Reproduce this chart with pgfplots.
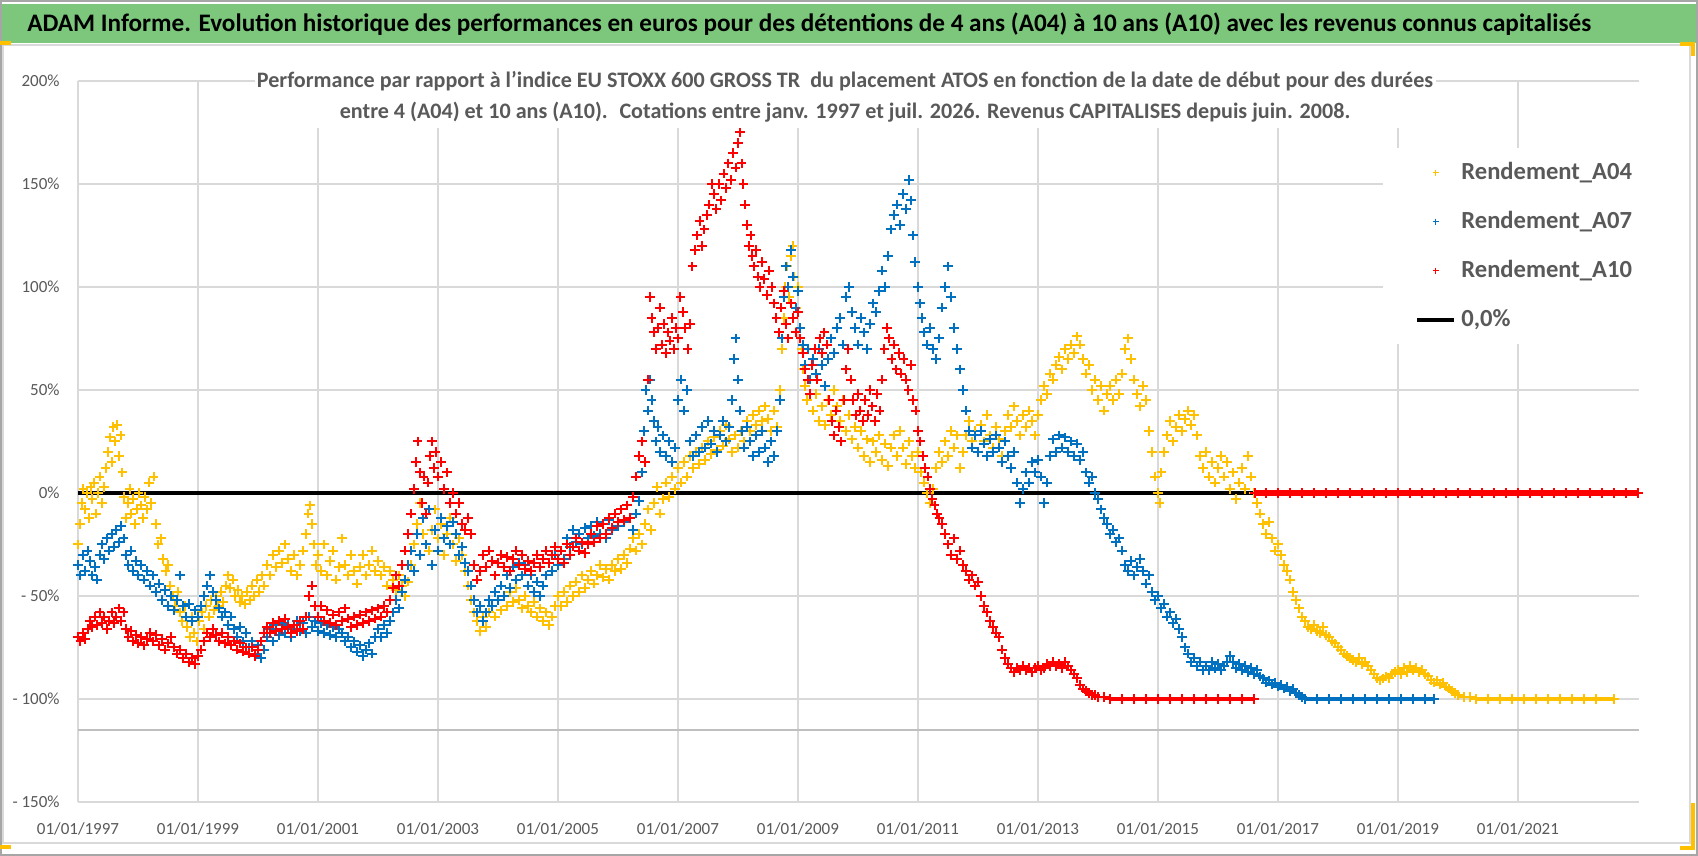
\documentclass[border=0pt]{standalone}
\usepackage{pgfplots}
\pgfplotsset{compat=1.18}
\usepackage{pgfplotstable}
\usepackage{fontspec}
\setmainfont{Carlito}
\definecolor{cA04}{HTML}{FFC000}
\definecolor{cA07}{HTML}{0070C0}
\definecolor{cA10}{HTML}{FF0000}
\definecolor{gridc}{HTML}{D9D9D9}
\definecolor{txt}{HTML}{595959}
\definecolor{banner}{RGB}{124,199,124}
\definecolor{framec}{HTML}{A6A6A6}
\definecolor{handle}{HTML}{FFC000}

\pgfplotstableread[row sep=\\]{x y\\
1997.00 -25\\ 1997.03 -15\\ 1997.06 -5\\ 1997.09 2\\ 1997.12 -8\\ 1997.15 0\\ 1997.18 -12\\ 1997.21 3\\ 1997.24 -3\\ 1997.27 5\\
1997.30 -10\\ 1997.33 0\\ 1997.36 8\\ 1997.40 -5\\ 1997.43 3\\ 1997.46 12\\ 1997.50 20\\ 1997.53 27\\ 1997.56 15\\ 1997.59 32\\
1997.62 25\\ 1997.65 33\\ 1997.68 18\\ 1997.71 28\\ 1997.74 10\\ 1997.77 -2\\ 1997.80 -12\\ 1997.83 -5\\ 1997.86 2\\ 1997.89 -10\\
1997.92 -3\\ 1997.95 -15\\ 1997.98 -8\\ 1998.01 0\\ 1998.05 -6\\ 1998.08 -12\\ 1998.11 -2\\ 1998.15 -8\\ 1998.18 5\\ 1998.22 -5\\
1998.26 8\\ 1998.30 -15\\ 1998.34 -25\\ 1998.38 -22\\ 1998.42 -32\\ 1998.46 -38\\ 1998.50 -35\\ 1998.54 -45\\ 1998.58 -50\\ 1998.62 -55\\
1998.66 -48\\ 1998.70 -58\\ 1998.74 -62\\ 1998.78 -55\\ 1998.82 -65\\ 1998.86 -70\\ 1998.90 -60\\ 1998.94 -68\\ 1998.98 -72\\ 1999.02 -62\\
1999.06 -58\\ 1999.10 -66\\ 1999.14 -55\\ 1999.18 -60\\ 1999.22 -52\\ 1999.26 -57\\ 1999.30 -50\\ 1999.34 -55\\ 1999.38 -48\\ 1999.42 -53\\
1999.46 -45\\ 1999.50 -40\\ 1999.54 -46\\ 1999.58 -42\\ 1999.62 -50\\ 1999.66 -47\\ 1999.70 -53\\ 1999.74 -50\\ 1999.78 -54\\ 1999.82 -48\\
1999.86 -52\\ 1999.90 -45\\ 1999.94 -50\\ 1999.98 -42\\ 2000.02 -48\\ 2000.06 -40\\ 2000.10 -45\\ 2000.15 -35\\ 2000.20 -40\\ 2000.25 -30\\
2000.30 -36\\ 2000.35 -28\\ 2000.40 -34\\ 2000.45 -25\\ 2000.50 -32\\ 2000.55 -38\\ 2000.60 -30\\ 2000.65 -40\\ 2000.70 -35\\ 2000.75 -28\\
2000.80 -20\\ 2000.84 -10\\ 2000.87 -6\\ 2000.90 -15\\ 2000.93 -25\\ 2000.97 -35\\ 2001.00 -30\\ 2001.05 -38\\ 2001.10 -25\\ 2001.15 -40\\
2001.20 -33\\ 2001.25 -28\\ 2001.30 -42\\ 2001.35 -36\\ 2001.40 -22\\ 2001.45 -35\\ 2001.50 -40\\ 2001.55 -30\\ 2001.60 -38\\ 2001.65 -44\\
2001.70 -36\\ 2001.75 -30\\ 2001.80 -40\\ 2001.85 -35\\ 2001.90 -28\\ 2001.95 -38\\ 2002.00 -33\\ 2002.05 -40\\ 2002.10 -36\\ 2002.15 -45\\
2002.20 -38\\ 2002.25 -42\\ 2002.30 -47\\ 2002.35 -40\\ 2002.40 -45\\ 2002.45 -50\\ 2002.50 -43\\ 2002.55 -35\\ 2002.60 -25\\ 2002.65 -15\\
2002.70 -5\\ 2002.75 -20\\ 2002.80 -10\\ 2002.85 -28\\ 2002.90 -18\\ 2002.95 -8\\ 2003.00 -22\\ 2003.05 -15\\ 2003.10 -30\\ 2003.15 -20\\
2003.20 -12\\ 2003.25 -25\\ 2003.30 -33\\ 2003.35 -22\\ 2003.40 -30\\ 2003.45 -38\\ 2003.50 -45\\ 2003.55 -52\\ 2003.60 -58\\ 2003.65 -62\\
2003.70 -67\\ 2003.75 -60\\ 2003.80 -65\\ 2003.85 -58\\ 2003.90 -55\\ 2003.95 -60\\ 2004.00 -52\\ 2004.05 -57\\ 2004.10 -50\\ 2004.15 -55\\
2004.20 -48\\ 2004.25 -53\\ 2004.30 -46\\ 2004.35 -52\\ 2004.40 -56\\ 2004.45 -50\\ 2004.50 -55\\ 2004.55 -58\\ 2004.60 -53\\ 2004.65 -60\\
2004.70 -56\\ 2004.75 -62\\ 2004.80 -58\\ 2004.85 -64\\ 2004.90 -60\\ 2004.95 -55\\ 2005.00 -50\\ 2005.05 -55\\ 2005.10 -48\\ 2005.15 -53\\
2005.20 -45\\ 2005.25 -50\\ 2005.30 -43\\ 2005.35 -48\\ 2005.40 -40\\ 2005.45 -46\\ 2005.50 -42\\ 2005.55 -38\\ 2005.60 -44\\ 2005.65 -40\\
2005.70 -35\\ 2005.75 -41\\ 2005.80 -37\\ 2005.85 -42\\ 2005.90 -35\\ 2005.95 -38\\ 2006.00 -32\\ 2006.05 -37\\ 2006.10 -30\\ 2006.15 -34\\
2006.20 -27\\ 2006.25 -22\\ 2006.30 -28\\ 2006.35 -20\\ 2006.40 -25\\ 2006.45 -15\\ 2006.50 -8\\ 2006.55 -18\\ 2006.60 -5\\ 2006.65 3\\
2006.70 -10\\ 2006.75 -3\\ 2006.80 5\\ 2006.85 -2\\ 2006.90 8\\ 2006.95 2\\ 2007.00 12\\ 2007.05 5\\ 2007.10 15\\ 2007.15 8\\
2007.20 18\\ 2007.25 12\\ 2007.30 20\\ 2007.35 14\\ 2007.40 22\\ 2007.45 16\\ 2007.50 25\\ 2007.55 19\\ 2007.60 27\\ 2007.65 21\\
2007.70 30\\ 2007.75 23\\ 2007.80 33\\ 2007.85 26\\ 2007.90 20\\ 2007.95 28\\ 2008.00 22\\ 2008.05 30\\ 2008.10 25\\ 2008.15 35\\
2008.20 30\\ 2008.25 38\\ 2008.30 33\\ 2008.35 40\\ 2008.40 35\\ 2008.45 42\\ 2008.50 36\\ 2008.55 30\\ 2008.60 40\\ 2008.65 32\\
2008.70 50\\ 2008.73 70\\ 2008.76 85\\ 2008.79 100\\ 2008.82 110\\ 2008.85 95\\ 2008.88 115\\ 2008.91 120\\ 2008.94 105\\ 2008.97 90\\
2009.00 100\\ 2009.03 80\\ 2009.06 70\\ 2009.09 60\\ 2009.12 52\\ 2009.15 45\\ 2009.20 55\\ 2009.25 40\\ 2009.30 48\\ 2009.35 35\\
2009.40 42\\ 2009.45 33\\ 2009.50 45\\ 2009.55 38\\ 2009.60 50\\ 2009.65 42\\ 2009.70 35\\ 2009.75 45\\ 2009.80 30\\ 2009.85 38\\
2009.90 26\\ 2009.95 32\\ 2010.00 22\\ 2010.05 30\\ 2010.10 18\\ 2010.15 26\\ 2010.20 15\\ 2010.25 25\\ 2010.30 20\\ 2010.35 28\\
2010.40 16\\ 2010.45 24\\ 2010.50 13\\ 2010.55 22\\ 2010.60 28\\ 2010.65 18\\ 2010.70 30\\ 2010.75 22\\ 2010.80 14\\ 2010.85 25\\
2010.90 18\\ 2010.95 12\\ 2011.00 20\\ 2011.05 10\\ 2011.10 5\\ 2011.15 0\\ 2011.20 -5\\ 2011.25 2\\ 2011.30 12\\ 2011.35 20\\
2011.40 15\\ 2011.45 25\\ 2011.50 18\\ 2011.55 30\\ 2011.60 22\\ 2011.65 28\\ 2011.70 12\\ 2011.75 20\\ 2011.80 28\\ 2011.85 35\\
2011.90 25\\ 2011.95 30\\ 2012.00 20\\ 2012.05 33\\ 2012.10 25\\ 2012.15 38\\ 2012.20 28\\ 2012.25 22\\ 2012.30 32\\ 2012.35 26\\
2012.40 18\\ 2012.45 30\\ 2012.50 38\\ 2012.55 32\\ 2012.60 42\\ 2012.65 35\\ 2012.70 28\\ 2012.75 38\\ 2012.80 32\\ 2012.85 40\\
2012.90 35\\ 2012.95 28\\ 2013.00 38\\ 2013.05 45\\ 2013.10 52\\ 2013.15 48\\ 2013.20 58\\ 2013.25 55\\ 2013.30 62\\ 2013.35 66\\
2013.40 60\\ 2013.45 70\\ 2013.50 65\\ 2013.55 72\\ 2013.60 68\\ 2013.65 76\\ 2013.70 72\\ 2013.75 65\\ 2013.80 58\\ 2013.85 62\\
2013.90 50\\ 2013.95 55\\ 2014.00 45\\ 2014.05 52\\ 2014.10 40\\ 2014.15 48\\ 2014.20 52\\ 2014.25 45\\ 2014.30 55\\ 2014.35 48\\
2014.40 58\\ 2014.45 70\\ 2014.50 75\\ 2014.55 65\\ 2014.60 55\\ 2014.65 48\\ 2014.70 42\\ 2014.75 52\\ 2014.80 45\\ 2014.85 30\\
2014.90 20\\ 2014.95 8\\ 2015.00 0\\ 2015.03 -5\\ 2015.06 10\\ 2015.10 20\\ 2015.15 28\\ 2015.20 35\\ 2015.25 25\\ 2015.30 32\\
2015.35 38\\ 2015.40 30\\ 2015.45 36\\ 2015.50 40\\ 2015.55 33\\ 2015.60 38\\ 2015.65 28\\ 2015.70 18\\ 2015.75 12\\ 2015.80 20\\
2015.85 8\\ 2015.90 15\\ 2015.95 5\\ 2016.00 12\\ 2016.05 18\\ 2016.10 8\\ 2016.15 15\\ 2016.20 2\\ 2016.25 10\\ 2016.30 -3\\
2016.35 5\\ 2016.40 12\\ 2016.45 2\\ 2016.50 18\\ 2016.55 8\\ 2016.60 0\\ 2016.65 -5\\ 2016.70 -10\\ 2016.75 -15\\ 2016.80 -20\\
2016.85 -14\\ 2016.90 -22\\ 2016.95 -28\\ 2017.00 -25\\ 2017.05 -30\\ 2017.10 -35\\ 2017.15 -38\\ 2017.20 -42\\ 2017.25 -48\\ 2017.30 -52\\
2017.35 -56\\ 2017.40 -60\\ 2017.45 -62\\ 2017.50 -65\\ 2017.55 -66\\ 2017.60 -64\\ 2017.65 -67\\ 2017.70 -68\\ 2017.75 -65\\ 2017.80 -69\\
2017.85 -70\\ 2017.90 -72\\ 2017.95 -73\\ 2018.00 -75\\ 2018.05 -76\\ 2018.10 -78\\ 2018.15 -79\\ 2018.20 -80\\ 2018.25 -81\\ 2018.30 -82\\
2018.35 -80\\ 2018.40 -83\\ 2018.45 -82\\ 2018.50 -84\\ 2018.55 -86\\ 2018.60 -88\\ 2018.65 -90\\ 2018.70 -91\\ 2018.75 -90\\ 2018.80 -89\\
2018.85 -90\\ 2018.90 -88\\ 2018.95 -87\\ 2019.00 -86\\ 2019.05 -88\\ 2019.10 -85\\ 2019.15 -87\\ 2019.20 -84\\ 2019.25 -86\\ 2019.30 -85\\
2019.35 -87\\ 2019.40 -86\\ 2019.45 -88\\ 2019.50 -89\\ 2019.55 -91\\ 2019.60 -92\\ 2019.65 -91\\ 2019.70 -93\\ 2019.75 -92\\ 2019.80 -94\\
2019.85 -95\\ 2019.90 -96\\ 2019.95 -97\\ 2020.00 -98\\ 2020.10 -99\\ 2020.20 -99\\
}\tYellow

\pgfplotstableread[row sep=\\]{x y\\
2020.30 -100\\ 2020.50 -100\\ 2020.70 -100\\ 2020.90 -100\\ 2021.10 -100\\ 2021.30 -100\\ 2021.50 -100\\ 2021.70 -100\\ 2021.90 -100\\ 2022.10 -100\\ 2022.30 -100\\ 2022.60 -100\\
}\tYellowFlat

\pgfplotstableread[row sep=\\]{x y\\
1997.00 -35\\ 1997.04 -40\\ 1997.08 -30\\ 1997.12 -38\\ 1997.16 -28\\ 1997.20 -33\\ 1997.24 -40\\ 1997.28 -36\\ 1997.32 -42\\ 1997.36 -30\\
1997.40 -25\\ 1997.44 -32\\ 1997.48 -22\\ 1997.52 -28\\ 1997.56 -20\\ 1997.60 -26\\ 1997.64 -18\\ 1997.68 -24\\ 1997.72 -16\\ 1997.76 -22\\
1997.80 -30\\ 1997.84 -35\\ 1997.88 -28\\ 1997.92 -38\\ 1997.96 -33\\ 1998.00 -40\\ 1998.05 -35\\ 1998.10 -42\\ 1998.15 -38\\ 1998.20 -45\\
1998.25 -40\\ 1998.30 -48\\ 1998.35 -44\\ 1998.40 -52\\ 1998.45 -47\\ 1998.50 -55\\ 1998.55 -50\\ 1998.60 -57\\ 1998.65 -52\\ 1998.70 -40\\
1998.75 -55\\ 1998.80 -60\\ 1998.85 -54\\ 1998.90 -62\\ 1998.95 -57\\ 1999.00 -60\\ 1999.05 -55\\ 1999.10 -50\\ 1999.15 -45\\ 1999.20 -40\\
1999.25 -48\\ 1999.30 -52\\ 1999.35 -56\\ 1999.40 -60\\ 1999.45 -58\\ 1999.50 -64\\ 1999.55 -60\\ 1999.60 -66\\ 1999.65 -70\\ 1999.70 -65\\
1999.75 -72\\ 1999.80 -68\\ 1999.85 -75\\ 1999.90 -72\\ 1999.95 -78\\ 2000.00 -74\\ 2000.05 -80\\ 2000.10 -76\\ 2000.15 -70\\ 2000.20 -66\\
2000.25 -72\\ 2000.30 -64\\ 2000.35 -69\\ 2000.40 -63\\ 2000.45 -68\\ 2000.50 -64\\ 2000.55 -70\\ 2000.60 -66\\ 2000.65 -62\\ 2000.70 -67\\
2000.75 -63\\ 2000.80 -68\\ 2000.85 -60\\ 2000.90 -65\\ 2000.95 -62\\ 2001.00 -67\\ 2001.05 -63\\ 2001.10 -68\\ 2001.15 -64\\ 2001.20 -69\\
2001.25 -65\\ 2001.30 -70\\ 2001.35 -66\\ 2001.40 -68\\ 2001.45 -72\\ 2001.50 -70\\ 2001.55 -75\\ 2001.60 -72\\ 2001.65 -77\\ 2001.70 -74\\
2001.75 -79\\ 2001.80 -76\\ 2001.85 -73\\ 2001.90 -78\\ 2001.95 -70\\ 2002.00 -66\\ 2002.05 -70\\ 2002.10 -64\\ 2002.15 -68\\ 2002.20 -62\\
2002.25 -58\\ 2002.30 -52\\ 2002.35 -56\\ 2002.40 -48\\ 2002.45 -42\\ 2002.50 -35\\ 2002.55 -28\\ 2002.60 -38\\ 2002.65 -20\\ 2002.70 -30\\
2002.75 -12\\ 2002.80 -25\\ 2002.85 -8\\ 2002.90 -35\\ 2002.95 -18\\ 2003.00 -28\\ 2003.05 -12\\ 2003.10 -22\\ 2003.15 -16\\ 2003.20 -25\\
2003.25 -14\\ 2003.30 -20\\ 2003.35 -30\\ 2003.40 -26\\ 2003.45 -34\\ 2003.50 -38\\ 2003.55 -45\\ 2003.60 -52\\ 2003.65 -58\\ 2003.70 -55\\
2003.75 -62\\ 2003.80 -58\\ 2003.85 -52\\ 2003.90 -55\\ 2003.95 -48\\ 2004.00 -52\\ 2004.05 -45\\ 2004.10 -50\\ 2004.15 -40\\ 2004.20 -46\\
2004.25 -36\\ 2004.30 -42\\ 2004.35 -34\\ 2004.40 -40\\ 2004.45 -35\\ 2004.50 -45\\ 2004.55 -40\\ 2004.60 -48\\ 2004.65 -43\\ 2004.70 -50\\
2004.75 -45\\ 2004.80 -40\\ 2004.85 -34\\ 2004.90 -38\\ 2004.95 -30\\ 2005.00 -35\\ 2005.05 -28\\ 2005.10 -32\\ 2005.15 -22\\ 2005.20 -26\\
2005.25 -18\\ 2005.30 -24\\ 2005.35 -20\\ 2005.40 -25\\ 2005.45 -17\\ 2005.50 -22\\ 2005.55 -16\\ 2005.60 -21\\ 2005.65 -14\\ 2005.70 -20\\
2005.75 -15\\ 2005.80 -22\\ 2005.85 -13\\ 2005.90 -18\\ 2005.95 -10\\ 2006.00 -16\\ 2006.05 -8\\ 2006.10 -14\\ 2006.15 -6\\ 2006.20 -12\\
2006.25 -18\\ 2006.30 -10\\ 2006.35 -4\\ 2006.40 10\\ 2006.43 30\\ 2006.46 50\\ 2006.50 40\\ 2006.53 55\\ 2006.56 45\\ 2006.60 35\\
2006.63 25\\ 2006.66 32\\ 2006.70 20\\ 2006.75 28\\ 2006.80 18\\ 2006.85 25\\ 2006.90 15\\ 2006.95 22\\ 2007.00 45\\ 2007.05 55\\
2007.10 40\\ 2007.15 50\\ 2007.20 25\\ 2007.25 18\\ 2007.30 28\\ 2007.35 20\\ 2007.40 32\\ 2007.45 22\\ 2007.50 35\\ 2007.55 24\\
2007.60 30\\ 2007.65 20\\ 2007.70 28\\ 2007.75 35\\ 2007.80 25\\ 2007.85 32\\ 2007.90 45\\ 2007.93 65\\ 2007.96 75\\ 2008.00 55\\
2008.03 40\\ 2008.06 30\\ 2008.10 22\\ 2008.15 32\\ 2008.20 25\\ 2008.25 18\\ 2008.30 28\\ 2008.35 20\\ 2008.40 30\\ 2008.45 22\\
2008.50 15\\ 2008.55 25\\ 2008.60 18\\ 2008.65 30\\ 2008.70 45\\ 2008.73 75\\ 2008.76 95\\ 2008.80 110\\ 2008.84 100\\ 2008.88 118\\
2008.92 105\\ 2008.96 90\\ 2009.00 98\\ 2009.04 80\\ 2009.08 72\\ 2009.12 62\\ 2009.16 70\\ 2009.20 55\\ 2009.25 65\\ 2009.30 58\\
2009.35 70\\ 2009.40 62\\ 2009.45 52\\ 2009.50 65\\ 2009.55 75\\ 2009.60 68\\ 2009.65 80\\ 2009.70 85\\ 2009.75 72\\ 2009.80 95\\
2009.85 100\\ 2009.90 88\\ 2009.95 80\\ 2010.00 72\\ 2010.05 85\\ 2010.10 78\\ 2010.15 70\\ 2010.20 82\\ 2010.25 92\\ 2010.30 88\\
2010.35 98\\ 2010.40 108\\ 2010.45 100\\ 2010.50 115\\ 2010.55 128\\ 2010.60 135\\ 2010.65 140\\ 2010.70 130\\ 2010.75 145\\ 2010.80 138\\
2010.85 152\\ 2010.88 142\\ 2010.92 125\\ 2010.95 112\\ 2011.00 100\\ 2011.03 92\\ 2011.06 85\\ 2011.10 78\\ 2011.15 72\\ 2011.20 80\\
2011.25 70\\ 2011.30 65\\ 2011.35 75\\ 2011.40 90\\ 2011.45 100\\ 2011.50 110\\ 2011.55 95\\ 2011.60 80\\ 2011.65 70\\ 2011.70 60\\
2011.75 50\\ 2011.80 40\\ 2011.85 30\\ 2011.90 22\\ 2011.95 28\\ 2012.00 20\\ 2012.05 30\\ 2012.10 24\\ 2012.15 18\\ 2012.20 26\\
2012.25 20\\ 2012.30 28\\ 2012.35 22\\ 2012.40 15\\ 2012.45 25\\ 2012.50 18\\ 2012.55 12\\ 2012.60 20\\ 2012.65 5\\ 2012.70 -5\\
2012.75 2\\ 2012.80 10\\ 2012.85 5\\ 2012.90 15\\ 2012.95 10\\ 2013.00 16\\ 2013.05 8\\ 2013.10 -5\\ 2013.15 5\\ 2013.20 18\\
2013.25 26\\ 2013.30 20\\ 2013.35 28\\ 2013.40 22\\ 2013.45 27\\ 2013.50 20\\ 2013.55 25\\ 2013.60 18\\ 2013.65 24\\ 2013.70 16\\
2013.75 20\\ 2013.80 10\\ 2013.85 5\\ 2013.90 8\\ 2013.95 0\\ 2014.00 -3\\ 2014.05 -8\\ 2014.10 -12\\ 2014.15 -15\\ 2014.20 -20\\
2014.25 -18\\ 2014.30 -24\\ 2014.35 -22\\ 2014.40 -28\\ 2014.45 -35\\ 2014.50 -38\\ 2014.55 -33\\ 2014.60 -40\\ 2014.65 -36\\ 2014.70 -32\\
2014.75 -38\\ 2014.80 -44\\ 2014.85 -40\\ 2014.90 -48\\ 2014.95 -52\\ 2015.00 -50\\ 2015.05 -56\\ 2015.10 -54\\ 2015.15 -60\\ 2015.20 -58\\
2015.25 -63\\ 2015.30 -61\\ 2015.35 -66\\ 2015.40 -70\\ 2015.45 -75\\ 2015.50 -78\\ 2015.55 -82\\ 2015.60 -80\\ 2015.65 -84\\ 2015.70 -82\\
2015.75 -86\\ 2015.80 -84\\ 2015.85 -86\\ 2015.90 -82\\ 2015.95 -85\\ 2016.00 -83\\ 2016.05 -86\\ 2016.10 -84\\ 2016.15 -82\\ 2016.20 -79\\
2016.25 -82\\ 2016.30 -85\\ 2016.35 -83\\ 2016.40 -86\\ 2016.45 -84\\ 2016.50 -87\\ 2016.55 -85\\ 2016.60 -88\\ 2016.65 -86\\ 2016.70 -89\\
2016.75 -90\\ 2016.80 -92\\ 2016.85 -91\\ 2016.90 -93\\ 2016.95 -92\\ 2017.00 -94\\ 2017.05 -93\\ 2017.10 -95\\ 2017.15 -94\\ 2017.20 -96\\
2017.25 -95\\ 2017.30 -97\\ 2017.35 -98\\ 2017.40 -99\\
}\tBlue

\pgfplotstableread[row sep=\\]{x y\\
2017.45 -100\\ 2017.65 -100\\ 2017.85 -100\\ 2018.05 -100\\ 2018.25 -100\\ 2018.45 -100\\ 2018.65 -100\\ 2018.85 -100\\ 2019.05 -100\\ 2019.25 -100\\ 2019.45 -100\\ 2019.60 -100\\
}\tBlueFlat

\pgfplotstableread[row sep=\\]{x y\\
1997.00 -70\\ 1997.04 -72\\ 1997.08 -68\\ 1997.12 -71\\ 1997.16 -66\\ 1997.20 -62\\ 1997.24 -65\\ 1997.28 -60\\ 1997.32 -64\\ 1997.36 -58\\
1997.40 -63\\ 1997.44 -60\\ 1997.48 -66\\ 1997.52 -62\\ 1997.56 -58\\ 1997.60 -63\\ 1997.64 -60\\ 1997.68 -56\\ 1997.72 -62\\ 1997.76 -58\\
1997.80 -66\\ 1997.84 -70\\ 1997.88 -67\\ 1997.92 -72\\ 1997.96 -69\\ 1998.00 -73\\ 1998.05 -70\\ 1998.10 -74\\ 1998.15 -71\\ 1998.20 -68\\
1998.25 -72\\ 1998.30 -69\\ 1998.35 -74\\ 1998.40 -71\\ 1998.45 -76\\ 1998.50 -73\\ 1998.55 -70\\ 1998.60 -75\\ 1998.65 -78\\ 1998.70 -76\\
1998.75 -80\\ 1998.80 -78\\ 1998.85 -82\\ 1998.90 -80\\ 1998.95 -83\\ 1999.00 -79\\ 1999.05 -76\\ 1999.10 -72\\ 1999.15 -68\\ 1999.20 -70\\
1999.25 -66\\ 1999.30 -69\\ 1999.35 -72\\ 1999.40 -68\\ 1999.45 -73\\ 1999.50 -70\\ 1999.55 -74\\ 1999.60 -72\\ 1999.65 -76\\ 1999.70 -73\\
1999.75 -77\\ 1999.80 -75\\ 1999.85 -78\\ 1999.90 -75\\ 1999.95 -79\\ 2000.00 -76\\ 2000.05 -72\\ 2000.10 -68\\ 2000.15 -65\\ 2000.20 -68\\
2000.25 -63\\ 2000.30 -67\\ 2000.35 -62\\ 2000.40 -66\\ 2000.45 -61\\ 2000.50 -65\\ 2000.55 -68\\ 2000.60 -64\\ 2000.65 -67\\ 2000.70 -62\\
2000.75 -66\\ 2000.80 -60\\ 2000.85 -50\\ 2000.90 -45\\ 2000.95 -55\\ 2001.00 -60\\ 2001.05 -55\\ 2001.10 -62\\ 2001.15 -57\\ 2001.20 -63\\
2001.25 -59\\ 2001.30 -64\\ 2001.35 -58\\ 2001.40 -62\\ 2001.45 -56\\ 2001.50 -61\\ 2001.55 -65\\ 2001.60 -60\\ 2001.65 -64\\ 2001.70 -59\\
2001.75 -63\\ 2001.80 -58\\ 2001.85 -62\\ 2001.90 -57\\ 2001.95 -61\\ 2002.00 -56\\ 2002.05 -60\\ 2002.10 -55\\ 2002.15 -58\\ 2002.20 -52\\
2002.25 -46\\ 2002.30 -40\\ 2002.35 -45\\ 2002.40 -35\\ 2002.45 -28\\ 2002.50 -20\\ 2002.55 -10\\ 2002.60 2\\ 2002.63 15\\ 2002.66 25\\
2002.70 10\\ 2002.73 -5\\ 2002.76 8\\ 2002.80 -10\\ 2002.83 5\\ 2002.86 18\\ 2002.90 25\\ 2002.93 12\\ 2002.96 20\\ 2003.00 8\\
2003.05 15\\ 2003.10 2\\ 2003.15 10\\ 2003.20 -5\\ 2003.25 0\\ 2003.30 -10\\ 2003.35 -5\\ 2003.40 -15\\ 2003.45 -18\\ 2003.50 -12\\
2003.55 -20\\ 2003.60 -35\\ 2003.65 -42\\ 2003.70 -38\\ 2003.75 -30\\ 2003.80 -36\\ 2003.85 -28\\ 2003.90 -33\\ 2003.95 -40\\ 2004.00 -34\\
2004.05 -30\\ 2004.10 -36\\ 2004.15 -31\\ 2004.20 -38\\ 2004.25 -32\\ 2004.30 -28\\ 2004.35 -35\\ 2004.40 -30\\ 2004.45 -37\\ 2004.50 -33\\
2004.55 -38\\ 2004.60 -34\\ 2004.65 -30\\ 2004.70 -36\\ 2004.75 -32\\ 2004.80 -28\\ 2004.85 -34\\ 2004.90 -30\\ 2004.95 -26\\ 2005.00 -32\\
2005.05 -28\\ 2005.10 -34\\ 2005.15 -25\\ 2005.20 -30\\ 2005.25 -26\\ 2005.30 -22\\ 2005.35 -28\\ 2005.40 -24\\ 2005.45 -29\\ 2005.50 -25\\
2005.55 -20\\ 2005.60 -24\\ 2005.65 -16\\ 2005.70 -22\\ 2005.75 -15\\ 2005.80 -20\\ 2005.85 -12\\ 2005.90 -17\\ 2005.95 -10\\ 2006.00 -14\\
2006.05 -8\\ 2006.10 -13\\ 2006.15 -6\\ 2006.20 -12\\ 2006.25 -2\\ 2006.30 8\\ 2006.35 18\\ 2006.40 25\\ 2006.45 15\\ 2006.50 55\\
2006.53 95\\ 2006.56 85\\ 2006.60 78\\ 2006.63 70\\ 2006.66 80\\ 2006.70 90\\ 2006.73 72\\ 2006.76 82\\ 2006.80 68\\ 2006.83 78\\
2006.86 74\\ 2006.90 85\\ 2006.93 70\\ 2006.96 80\\ 2007.00 75\\ 2007.04 95\\ 2007.08 88\\ 2007.12 80\\ 2007.16 70\\ 2007.20 82\\
2007.24 110\\ 2007.28 118\\ 2007.32 125\\ 2007.36 132\\ 2007.40 120\\ 2007.44 128\\ 2007.48 135\\ 2007.52 140\\ 2007.56 150\\ 2007.60 145\\
2007.64 138\\ 2007.68 150\\ 2007.72 142\\ 2007.76 155\\ 2007.80 148\\ 2007.84 160\\ 2007.88 152\\ 2007.92 165\\ 2007.96 158\\ 2008.00 170\\
2008.03 175\\ 2008.06 160\\ 2008.09 150\\ 2008.12 140\\ 2008.15 130\\ 2008.18 120\\ 2008.21 125\\ 2008.24 115\\ 2008.27 110\\ 2008.30 118\\
2008.33 105\\ 2008.36 100\\ 2008.40 112\\ 2008.44 104\\ 2008.48 96\\ 2008.52 108\\ 2008.56 100\\ 2008.60 92\\ 2008.64 85\\ 2008.68 78\\
2008.72 90\\ 2008.76 98\\ 2008.80 82\\ 2008.84 75\\ 2008.88 92\\ 2008.92 85\\ 2008.96 78\\ 2009.00 88\\ 2009.04 75\\ 2009.08 68\\
2009.12 60\\ 2009.16 55\\ 2009.20 48\\ 2009.24 62\\ 2009.28 70\\ 2009.32 55\\ 2009.36 75\\ 2009.40 68\\ 2009.44 78\\ 2009.48 72\\
2009.52 45\\ 2009.56 35\\ 2009.60 28\\ 2009.64 40\\ 2009.68 32\\ 2009.72 25\\ 2009.76 45\\ 2009.80 60\\ 2009.84 70\\ 2009.88 55\\
2009.92 45\\ 2009.96 38\\ 2010.00 48\\ 2010.04 40\\ 2010.08 35\\ 2010.12 45\\ 2010.16 38\\ 2010.20 50\\ 2010.24 42\\ 2010.28 35\\
2010.32 48\\ 2010.36 40\\ 2010.40 55\\ 2010.44 70\\ 2010.48 80\\ 2010.52 75\\ 2010.56 65\\ 2010.60 72\\ 2010.64 60\\ 2010.68 68\\
2010.72 58\\ 2010.76 65\\ 2010.80 55\\ 2010.84 50\\ 2010.88 62\\ 2010.92 45\\ 2010.96 40\\ 2011.00 30\\ 2011.04 25\\ 2011.08 18\\
2011.12 12\\ 2011.16 8\\ 2011.20 2\\ 2011.24 -3\\ 2011.28 -6\\ 2011.32 -10\\ 2011.36 -12\\ 2011.40 -15\\ 2011.45 -20\\ 2011.50 -25\\
2011.55 -30\\ 2011.60 -22\\ 2011.65 -32\\ 2011.70 -28\\ 2011.75 -35\\ 2011.80 -38\\ 2011.85 -42\\ 2011.90 -40\\ 2011.95 -45\\ 2012.00 -43\\
2012.05 -50\\ 2012.10 -55\\ 2012.15 -58\\ 2012.20 -62\\ 2012.25 -65\\ 2012.30 -68\\ 2012.35 -70\\ 2012.40 -76\\ 2012.45 -80\\ 2012.50 -83\\
2012.55 -85\\ 2012.60 -87\\ 2012.65 -85\\ 2012.70 -86\\ 2012.75 -84\\ 2012.80 -86\\ 2012.85 -85\\ 2012.90 -87\\ 2012.95 -85\\ 2013.00 -84\\
2013.05 -86\\ 2013.10 -85\\ 2013.15 -83\\ 2013.20 -84\\ 2013.25 -82\\ 2013.30 -84\\ 2013.35 -83\\ 2013.40 -85\\ 2013.45 -82\\ 2013.50 -84\\
2013.55 -86\\ 2013.60 -88\\ 2013.65 -90\\ 2013.70 -93\\ 2013.75 -95\\ 2013.80 -96\\ 2013.85 -97\\ 2013.90 -98\\ 2013.95 -98\\ 2014.00 -99\\
2014.10 -99\\
}\tRed

\pgfplotstableread[row sep=\\]{x y\\
2014.20 -100\\ 2014.40 -100\\ 2014.60 -100\\ 2014.80 -100\\ 2015.00 -100\\ 2015.20 -100\\ 2015.40 -100\\ 2015.60 -100\\ 2015.80 -100\\ 2016.00 -100\\ 2016.20 -100\\ 2016.40 -100\\ 2016.60 -100\\
}\tRedFlat

\pgfplotstableread[row sep=\\]{x y\\
2016.62 0\\ 2016.80 0\\ 2017.00 0\\ 2017.20 0\\ 2017.40 0\\ 2017.60 0\\ 2017.80 0\\ 2018.00 0\\ 2018.20 0\\ 2018.40 0\\ 2018.60 0\\ 2018.80 0\\
2019.00 0\\ 2019.20 0\\ 2019.40 0\\ 2019.60 0\\ 2019.80 0\\ 2020.00 0\\ 2020.20 0\\ 2020.40 0\\ 2020.60 0\\ 2020.80 0\\ 2021.00 0\\ 2021.20 0\\
2021.40 0\\ 2021.60 0\\ 2021.80 0\\ 2022.00 0\\ 2022.20 0\\ 2022.40 0\\ 2022.60 0\\ 2022.80 0\\ 2023.00 0\\
}\tRedZero

\begin{document}
\begin{tikzpicture}
\begin{scope}[x=0.5pt,y=0.5pt]
  \path[use as bounding box] (0,0) rectangle (1698,856);
  \fill[white] (0,0) rectangle (1698,856);
  \draw[framec, line width=0.8pt] (1,1) rectangle (1697,855);
  \fill[banner] (2,813) rectangle (1696,852);
  \draw[gridc, line width=0.8pt] (3,811) rectangle (1690,13);
  \node[anchor=west, inner sep=0pt, font=\bfseries\fontsize{12.6}{15}\selectfont] at (27,832)
    {ADAM Informe. Evolution historique des performances en euros pour des détentions de 4 ans (A04) à 10 ans (A10) avec les revenus connus capitalisés};
  % selection handles
  \draw[handle, line width=2pt] (0,813) -- (11,813);
  \draw[handle, line width=2pt] (0,9) -- (11,9);
  \draw[handle, line width=2pt] (1680,812) -- (1693,812) -- (1693,800);
  \draw[handle, line width=2pt] (1693,53) -- (1693,8) -- (1680,8);
\end{scope}

\begin{axis}[
  at={(39pt,27pt)}, anchor=south west,
  scale only axis, width=780.5pt, height=360.5pt,
  xmin=1997, xmax=2023.02, ymin=-150, ymax=200,
  axis line style={draw=none}, tick style={draw=none},
  grid=major, grid style={color=gridc, line width=0.8pt},
  xtick={1997,1999,...,2021},
  xticklabels={01/01/1997,01/01/1999,01/01/2001,01/01/2003,01/01/2005,01/01/2007,01/01/2009,01/01/2011,01/01/2013,01/01/2015,01/01/2017,01/01/2019,01/01/2021},
  ytick={-150,-100,...,200},
  yticklabels={- 150\%,- 100\%,- 50\%,0\%,50\%,100\%,150\%,200\%},
  ticklabel style={font=\fontsize{8.5}{10}\selectfont, text=txt},
  yticklabel style={inner sep=0pt, xshift=-9pt},
  xticklabel style={inner sep=0pt, yshift=-10pt},
  legend style={at={(0.836,0.907)}, anchor=north west, draw=none, fill=white,
    font=\bfseries\fontsize{12.3}{14}\selectfont, text=txt,
    inner xsep=16pt, inner ysep=7pt, row sep=14.2pt, column sep=2.5pt,
    nodes={inner sep=0pt, text height=8.3pt, text depth=2pt}},
  legend cell align=left,
  scatter/.style={only marks, mark=+, mark size=2.4pt, line width=1pt},
  flat/.style={line width=2.2pt, mark=+, mark size=2.4pt, mark options={line width=1pt}, forget plot},
]
\addplot[color=black!25, line width=0.8pt, forget plot] coordinates {(1997,-115) (2023.02,-115)};
\addplot[scatter, color=cA04, legend image code/.code={\path (0pt,0pt) (18.5pt,0pt); \draw[cA04, mark=+, mark size=1.5pt, line width=0.5pt] plot coordinates {(9.25pt,0pt)};}] table {\tYellow};
\addlegendentry{Rendement\_A04}
\addplot[scatter, color=cA07, legend image code/.code={\path (0pt,0pt) (18.5pt,0pt); \draw[cA07, mark=+, mark size=1.5pt, line width=0.5pt] plot coordinates {(9.25pt,0pt)};}] table {\tBlue};
\addlegendentry{Rendement\_A07}
\addplot[scatter, color=cA10, legend image code/.code={\path (0pt,0pt) (18.5pt,0pt); \draw[cA10, mark=+, mark size=1.5pt, line width=0.5pt] plot coordinates {(9.25pt,0pt)};}] table {\tRed};
\addlegendentry{Rendement\_A10}
\addplot[cA04, flat] table {\tYellowFlat};
\addplot[cA07, flat] table {\tBlueFlat};
\addplot[cA10, flat] table {\tRedFlat};
\addplot[cA10, flat, line width=3.4pt] table {\tRedZero};
\addplot[black, line width=2pt, legend image code/.code={\draw[black, line width=2pt] (0pt,0pt) -- (18.5pt,0pt);}] coordinates {(1997,0) (2016.62,0)};
\addlegendentry{0,0\%}
\end{axis}

\begin{scope}[x=0.5pt,y=0.5pt]
  \fill[white] (255,728) rectangle (1436,796);
  \node[anchor=center, inner sep=0pt, text=txt, font=\bfseries\fontsize{11.05}{12}\selectfont] at (845,775)
    {Performance par rapport à l'indice EU STOXX 600 GROSS TR \ du placement ATOS en fonction de la date de début pour des durées};
  \node[anchor=center, inner sep=0pt, text=txt, font=\bfseries\fontsize{11.05}{12}\selectfont] at (845,744)
    {entre 4 (A04) et 10 ans (A10). \ Cotations entre janv. 1997 et juil. 2026. Revenus CAPITALISES depuis juin. 2008.};
\end{scope}
\end{tikzpicture}
\end{document}
